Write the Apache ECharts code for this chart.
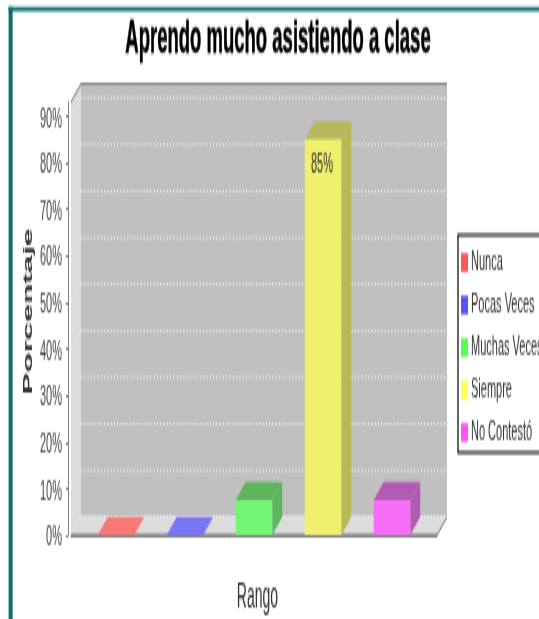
<!DOCTYPE html>
<html>
<head>
<meta charset="utf-8">
<style>
html,body{margin:0;padding:0;background:#fff;overflow:hidden;width:539px;height:619px}
#stretch{position:absolute;left:0;top:0;width:539px;height:247.6px;transform-origin:0 0;transform:scaleY(2.5);filter:blur(0.3px)}
#chart{width:539px;height:248px}
</style>
<script src="https://cdn.jsdelivr.net/npm/echarts@6/dist/echarts.min.js"></script>
</head>
<body>
<div id="stretch"><div id="chart"></div></div>
<script>
var titleText = 'Aprendo mucho asistiendo a clase';
var yAxisName = 'Porcentaje';
var xAxisName = 'Rango';
var categories = [''];
var seriesNames = ['Nunca', 'Pocas Veces', 'Muchas Veces', 'Siempre', 'No Contestó'];
var nunca = [0];
var pocasVeces = [0];
var muchasVeces = [7.5];
var siempre = [85];
var noContesto = [7.5];
var seriesValues = [nunca, pocasVeces, muchasVeces, siempre, noContesto];
var barLabels = ['', '', '', '85%', ''];
var yTicks = [0, 10, 20, 30, 40, 50, 60, 70, 80, 90];

var legendColors = ['#ff5555', '#5555ff', '#55ff55', '#ffff55', '#ff55ff'];
var frontColors = ['#f87878', '#7777f6', '#75f575', '#f0f06e', '#f56ef5'];
var shadeColors = ['#f87878', '#7777f6', '#5db55d', '#b8b85c', '#b35ab3'];
var depthX = 10, depthY = 7.2;
var barPitch = 0.1885, barWidth = 0.0997;
var FONT = '"Liberation Sans", Arial, sans-serif';

function renderWalls(params, api) {
  var c = params.coordSys;
  var L = c.x, R = c.x + c.width, T = c.y, B = c.y + c.height;
  var kids = [
    {type:'polygon', shape:{points:[[L+depthX,T-depthY],[R+depthX,T-depthY],[R+depthX,B-depthY],[L+depthX,B-depthY]]}, style:{fill:'#c0c0c0'}},
    {type:'polygon', shape:{points:[[L,T],[L+depthX,T-depthY],[L+depthX,B-depthY],[L,B]]}, style:{fill:'#dcdcdc'}},
    {type:'polygon', shape:{points:[[L,B],[L+depthX,B-depthY],[R+depthX,B-depthY],[R,B]]}, style:{fill:'#dcdcdc'}}
  ];
  yTicks.forEach(function (t) {
    var y = api.coord([0, t])[1];
    kids.push({type:'line', shape:{x1:L+depthX,y1:y-depthY,x2:R+depthX,y2:y-depthY}, style:{stroke:'#ffffff', lineWidth:1, lineDash:[1,2.3]}});
    kids.push({type:'line', shape:{x1:L,y1:y,x2:L+depthX,y2:y-depthY}, style:{stroke:'#eeeeee', lineWidth:0.6, lineDash:[1,1.5]}});
  });
  kids.push({type:'polyline', shape:{points:[[L,T],[L+depthX,T-depthY],[R+depthX,T-depthY]]}, style:{stroke:'#808080', fill:null, lineWidth:1}});
  kids.push({type:'polyline', shape:{points:[[L,B],[R,B],[R+depthX,B-depthY]]}, style:{stroke:'#808080', fill:null, lineWidth:1}});
  return {type:'group', children:kids};
}

function renderBar(params, api) {
  var i = params.seriesIndex - 1;
  var band = api.size([1, 0])[0];
  var cx = api.coord([0, 0])[0] + (i - 2) * barPitch * band;
  var w = barWidth * band;
  var value = api.value(1);
  var yTop = api.coord([0, value])[1];
  var yBase = api.coord([0, 0])[1];
  var l = cx - w / 2, r = cx + w / 2;
  var topFill = value > 0 ? shadeColors[i] : frontColors[i];
  var kids = [
    {type:'polygon', shape:{points:[[r,yTop],[r+depthX,yTop-depthY],[r+depthX,yBase-depthY],[r,yBase]]}, style:{fill:shadeColors[i]}},
    {type:'polygon', shape:{points:[[l,yTop],[l+depthX,yTop-depthY],[r+depthX,yTop-depthY],[r,yTop]]}, style:{fill:topFill}},
    {type:'rect', shape:{x:l,y:yTop,width:w,height:yBase-yTop}, style:{fill:frontColors[i]}}
  ];
  if (barLabels[i]) {
    kids.push({type:'text', style:{text:barLabels[i], x:cx-1, y:yTop+5, align:'center', verticalAlign:'top', fill:'#333333', font:'11px '+FONT}});
  }
  return {type:'group', children:kids};
}

var series = [{
  type:'custom', name:'__walls', silent:true, z:1, renderItem:renderWalls,
  data:[[0, 0]], encode:{x:0, y:1}, clip:false
}];
seriesNames.forEach(function (name, i) {
  series.push({
    type:'custom', name:name, z:2, renderItem:renderBar, clip:false,
    itemStyle:{color:legendColors[i]},
    encode:{x:0, y:1},
    data:seriesValues[i].map(function (v, k) { return [k, v]; })
  });
});

var chart = echarts.init(document.getElementById('chart'), null, {renderer:'canvas', width:539, height:248});
chart.setOption({
  animation:false,
  backgroundColor:'#ffffff',
  textStyle:{fontFamily:FONT},
  title:{
    text:titleText, left:273, top:1.5, textAlign:'center',
    textStyle:{fontFamily:FONT, fontSize:18.5, fontWeight:'bold', color:'#000000', textBorderColor:'#000000', textBorderWidth:0.3}
  },
  legend:{
    data:seriesNames, orient:'vertical', left:458, top:94,
    padding:[5,20,2,3], itemWidth:7, itemHeight:7.5, itemGap:5,
    itemStyle:{borderWidth:0},
    borderColor:'#000000', borderWidth:1.2, backgroundColor:'#ffffff',
    icon:'rect', selectedMode:false,
    textStyle:{fontFamily:FONT, fontSize:11, color:'#333333', lineHeight:12, padding:[0,0,0,-2]}
  },
  grid:{left:71, right:102, top:40.8, bottom:34, containLabel:false, outerBoundsMode:'none'},
  xAxis:{
    type:'category', data:categories, offset:4,
    name:xAxisName, nameLocation:'middle', nameGap:14,
    nameTextStyle:{fontFamily:FONT, fontSize:14, color:'#333333', padding:[0,0,0,7]},
    axisLine:{lineStyle:{color:'#808080', width:1}},
    axisTick:{alignWithLabel:true, length:2, lineStyle:{color:'#808080'}},
    axisLabel:{show:false}, splitLine:{show:false}
  },
  yAxis:{
    type:'value', min:0, max:93, interval:10, offset:3,
    name:yAxisName, nameLocation:'middle', nameGap:33, nameRotate:90, nameMoveOverlap:false,
    nameTextStyle:{fontFamily:FONT, fontSize:13, fontWeight:'bold', color:'#333333', padding:[0,0,0,6]},
    axisLine:{show:true, lineStyle:{color:'#808080', width:1}},
    axisTick:{show:true, length:2, lineStyle:{color:'#808080'}, customValues:yTicks},
    axisLabel:{margin:6, fontFamily:FONT, fontSize:11, color:'#444444', formatter:'{value}%', customValues:yTicks, verticalAlign:'top', lineHeight:2.4},
    splitLine:{show:false}
  },
  graphic:[
    {type:'rect', silent:true, z:100, shape:{x:8.6,y:2.7,width:4,height:250}, style:{fill:'#0f6e6e'}},
    {type:'rect', silent:true, z:100, shape:{x:8.6,y:2.7,width:531,height:1.7}, style:{fill:'#0f6e6e'}}
  ],
  series:series
});
</script>
</body>
</html>
